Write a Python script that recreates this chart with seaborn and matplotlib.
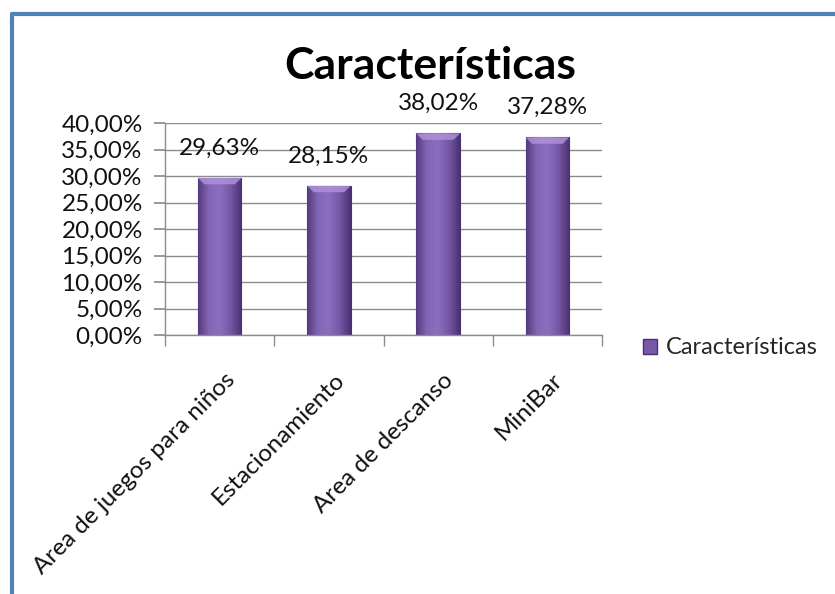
import numpy as np
import pandas as pd
import matplotlib
matplotlib.use("Agg")
import matplotlib.pyplot as plt
import matplotlib.transforms as mtransforms
from matplotlib.lines import Line2D
from matplotlib.colors import LinearSegmentedColormap
import seaborn as sns

# ---------------- data ----------------
categorias = ["Area de juegos para niños", "Estacionamiento", "Area de descanso", "MiniBar"]
porcentajes = [29.63, 28.15, 38.02, 37.28]
serie = "Características"
yticks = [0, 5, 10, 15, 20, 25, 30, 35, 40]

df = pd.DataFrame({"cat": categorias, "val": porcentajes})

# ---------------- style ----------------
sns.set_theme(style="white")
plt.rcParams["font.family"] = ["Lato", "DejaVu Sans"]

fig = plt.figure(figsize=(8.35, 5.94), dpi=100)
ax = fig.add_axes([165 / 835, 1 - 335 / 594, (602 - 165) / 835, (335 - 123) / 594])

sns.barplot(data=df, x="cat", y="val", color="#7859a8", width=0.4, ax=ax,
            edgecolor="#4a3270", linewidth=0.8, saturation=1)

# gradient on the bars
cmap = LinearSegmentedColormap.from_list("morado", ["#553b80", "#8466b6", "#8b6ebd", "#7557a6", "#4a3272"])
grad = np.linspace(0, 1, 64).reshape(1, -1)
for p in ax.patches:
    x0, y0 = p.get_x(), p.get_y()
    w, h = p.get_width(), p.get_height()
    im = ax.imshow(grad, cmap=cmap, aspect="auto", extent=[x0, x0 + w, y0, y0 + h], zorder=p.get_zorder() + 0.1)
    im.set_clip_path(p)
    # light bevel on top
    ax.fill([x0, x0 + w, x0 + w * 0.85, x0 + w * 0.15], [y0 + h, y0 + h, y0 + h - 1.2, y0 + h - 1.2],
            color="#b294dc", alpha=0.8, zorder=p.get_zorder() + 0.2, lw=0)

ax.set_xlim(-0.5, len(categorias) - 0.5)
ax.set_ylim(0, 40)
ax.set_yticks(yticks)
ax.set_yticklabels([f"{v:.2f}%".replace(".", ",") for v in yticks], fontsize=17.5, color="#111111")
ax.yaxis.grid(True, color="#8c8c8c", linewidth=1)
ax.set_axisbelow(True)

for s in ["top", "right"]:
    ax.spines[s].set_visible(False)
for s in ["left", "bottom"]:
    ax.spines[s].set_color("#8c8c8c")
    ax.spines[s].set_linewidth(1)

ax.tick_params(axis="y", left=True, length=8, color="#8c8c8c", pad=8)
ax.set_xticks(np.arange(len(categorias)))
ax.set_xticklabels(categorias, rotation=45, ha="right", va="center", rotation_mode="anchor", fontsize=17.5, color="#111111")
ax.tick_params(axis="x", bottom=False, pad=24)
offset = mtransforms.ScaledTranslation(12 / 100, 0, fig.dpi_scale_trans)
for lbl in ax.get_xticklabels():
    lbl.set_transform(lbl.get_transform() + offset)
ax.set_xticks(np.arange(len(categorias) + 1) - 0.5, minor=True)
ax.tick_params(axis="x", which="minor", bottom=True, length=8, color="#8c8c8c", width=1)
ax.set_xlabel("")
ax.set_ylabel("")

ax.bar_label(ax.containers[0], labels=[f"{v:.2f}%".replace(".", ",") for v in porcentajes],
             padding=14, fontsize=17.5, color="#111111")

fig.text(430 / 835, 1 - 66 / 594, "Características", ha="center", va="center", fontsize=32, fontweight="bold", color="#000000")

# legend
handles = [plt.Rectangle((0, 0), 1, 1, facecolor="#7859a8", edgecolor="#4a3270")]
fig.legend(handles, [serie], loc="center left", bbox_to_anchor=(622 / 835, 1 - 348 / 594), frameon=False,
           fontsize=17, handlelength=0.6, handleheight=0.6, handletextpad=0.35)

# blue frame of the chart window
blue = "#4f81bd"
fig.add_artist(Line2D([12 / 835, 12 / 835], [0, 1 - 14 / 594], color=blue, lw=3, transform=fig.transFigure))
fig.add_artist(Line2D([12 / 835, 1], [1 - 14 / 594, 1 - 14 / 594], color=blue, lw=3, transform=fig.transFigure))

fig.savefig("out.png", dpi=100)
